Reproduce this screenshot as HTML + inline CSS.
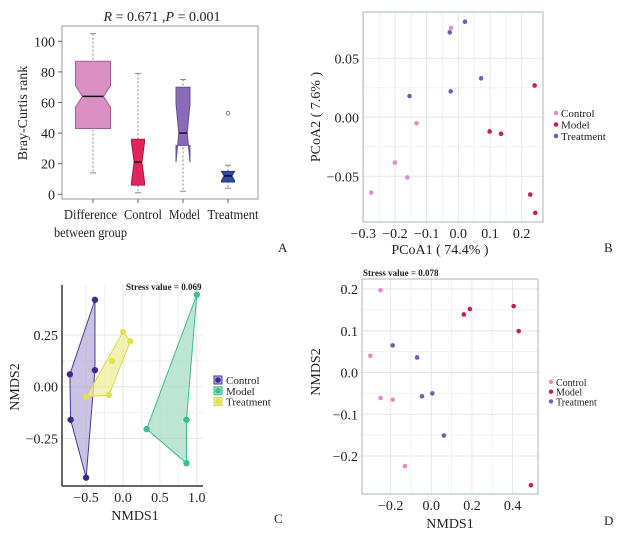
<!DOCTYPE html>
<html><head><meta charset="utf-8"><style>
html,body{margin:0;padding:0;background:#fff}
svg{display:block;font-family:"Liberation Serif",serif}
</style></head><body>
<svg id="fig" width="617" height="536" viewBox="0 0 617 536" xmlns="http://www.w3.org/2000/svg">
<g id="pA"></g>
<g id="pB"></g>
<g id="pC"></g>
<g id="pD"></g>
</svg>
<script>
// ---- Panel A data ----
const aCategories = ["Difference", "Control", "Model", "Treatment"];
const aWhiskLow = [14, 1, 2, 4];
const aQ1 = [43, 6, 32, 8];
const aMedian = [64, 21, 40, 12];
const aQ3 = [87, 36, 70, 15];
const aWhiskHigh = [105, 79, 75, 19];
const aNotchLow = [57, 8, 21, 9];
const aNotchHigh = [71, 34, 59, 15];
const aOutliers = [[], [], [], [53]];
const aTicks = [0, 20, 40, 60, 80, 100];
// ---- Panel B data ----
const bGroups = ["Control", "Model", "Treatment"];
const bX = [[-0.023,-0.132,-0.2,-0.161,-0.275],[0.241,0.099,0.135,0.227,0.243],[0.021,-0.027,0.072,-0.024,-0.154]];
const bY = [[0.0757,-0.005,-0.0384,-0.051,-0.0638],[0.027,-0.012,-0.014,-0.0655,-0.081],[0.081,0.072,0.033,0.022,0.018]];
const bXTicks = [-0.3,-0.2,-0.1,0.0,0.1,0.2];
const bXTickLabels = ["\u22120.3","\u22120.2","\u22120.1","0.0","0.1","0.2"];
const bYTicks = [0.05,0.00,-0.05];
const bYTickLabels = ["0.05","0.00","\u22120.05"];
// ---- Panel C data ----
const cGroups = ["Control", "Model", "Treatment"];
const cX = [[-0.38,-0.72,-0.38,-0.71,-0.5],[1.0,0.32,0.86,0.86],[0.0,0.1,-0.15,-0.19,-0.5]];
const cY = [[0.42,0.06,0.08,-0.16,-0.44],[0.445,-0.205,-0.16,-0.37],[0.265,0.22,0.125,-0.04,-0.05]];
const cHull = [[0,2,4,3,1],[0,2,3,1],[0,1,3,4]];
const cXTicks = [-0.5,0.0,0.5,1.0];
const cXTickLabels = ["\u22120.5","0.0","0.5","1.0"];
const cYTicks = [0.25,0.00,-0.25];
const cYTickLabels = ["0.25","0.00","\u22120.25"];
// ---- Panel D data ----
const dGroups = ["Control", "Model", "Treatment"];
const dX = [[-0.25,-0.30,-0.25,-0.19,-0.13],[0.16,0.19,0.405,0.43,0.49],[-0.19,-0.07,-0.046,0.005,0.062]];
const dY = [[0.197,0.040,-0.061,-0.065,-0.224],[0.139,0.152,0.159,0.099,-0.27],[0.065,0.036,-0.057,-0.05,-0.151]];
const dXTicks = [-0.2,0.0,0.2,0.4];
const dXTickLabels = ["\u22120.2","0.0","0.2","0.4"];
const dYTicks = [0.2,0.1,0.0,-0.1,-0.2];
const dYTickLabels = ["0.2","0.1","0.0","\u22120.1","\u22120.2"];

const NS="http://www.w3.org/2000/svg";
function mk(parent,tag,attrs,text){const e=document.createElementNS(NS,tag);for(const k in attrs)e.setAttribute(k,attrs[k]);if(text!==undefined)e.textContent=text;parent.appendChild(e);return e;}

// ===== Panel A =====
(function(){
const g=document.getElementById('pA');
const ay=v=>194.3-1.53*v;
const ax=[93,138,183,228];
const hw=[17.5,6.5,7,6.5];
const lw=[53,38,31,51];
const lx=[90.5,143,184.5,233];
const fills=["#d98fc4","#e0245e","#8a6bb8","#2d4ca8"];
const strokes=["#a0608f","#a81a45","#6a4f98","#1e3580"];
let r=mk(g,'rect',{x:62,y:26,width:196,height:173,fill:'#fff',stroke:'#999','stroke-width':1});

aTicks.forEach(t=>{
 let tl=mk(g,'line',{x1:58,x2:62,y1:ay(t),y2:ay(t),stroke:'#666'});
 
 let tx=mk(g,'text',{x:55,y:ay(t)+5,'text-anchor':'end','font-size':14,fill:'#222'},String(t));
 
});
aCategories.forEach((c,i)=>{
 const x=ax[i],w=hw[i],nw=w*0.6;
 let wl=mk(g,'line',{x1:x,x2:x,y1:ay(aWhiskHigh[i]),y2:ay(aWhiskLow[i]),stroke:'#888','stroke-dasharray':'2,2'});
 
 [aWhiskHigh[i],aWhiskLow[i]].forEach(v=>{let c2=mk(g,'line',{x1:x-3,x2:x+3,y1:ay(v),y2:ay(v),stroke:'#888'});});
 const pts=[[x-w,ay(aQ3[i])],[x+w,ay(aQ3[i])],[x+w,ay(aNotchHigh[i])],[x+nw,ay(aMedian[i])],[x+w,ay(aNotchLow[i])],[x+w,ay(aQ1[i])],[x-w,ay(aQ1[i])],[x-w,ay(aNotchLow[i])],[x-nw,ay(aMedian[i])],[x-w,ay(aNotchHigh[i])]];
 let p=mk(g,'polygon',{points:pts.map(q=>q.join(',')).join(' '),fill:fills[i],stroke:strokes[i],'stroke-width':1});
 
 let m=mk(g,'line',{x1:x-nw,x2:x+nw,y1:ay(aMedian[i]),y2:ay(aMedian[i]),stroke:'#111','stroke-width':1.5});
 
 aOutliers[i].forEach(o=>{let oc=mk(g,'circle',{cx:x,cy:ay(o),r:1.8,fill:'none',stroke:'#777'});});
 let tk=mk(g,'line',{x1:x,x2:x,y1:199,y2:203,stroke:'#666'});
 let lb=mk(g,'text',{x:lx[i],y:219,'text-anchor':'middle','font-size':14,fill:'#222',textLength:lw[i],lengthAdjust:'spacingAndGlyphs'},c);
 
});
let bg=mk(g,'text',{x:54,y:237,'font-size':14,fill:'#222',textLength:73,lengthAdjust:'spacingAndGlyphs'},'between group');
let yl=mk(g,'text',{x:0,y:0,transform:'translate(27,113) rotate(-90)','text-anchor':'middle','font-size':14,fill:'#222'},'Bray-Curtis rank');
let t=mk(g,'text',{x:162,y:21,'text-anchor':'middle','font-size':14,fill:'#222'});
t.innerHTML='<tspan font-style="italic">R</tspan> = 0.671 ,<tspan font-style="italic">P</tspan> = 0.001';
let L=mk(g,'text',{x:278,y:252,'font-size':13,fill:'#222'},'A');
})();

// ===== generic scatter =====
function scatter(g,o){
 const X=o.x,Y=o.y;
 let bgR=mk(g,'rect',{x:o.l,y:o.t,width:o.r-o.l,height:o.b-o.t,fill:'#fff'});
 for(let i=0;i<o.xt.length;i++){
  const xv=X(o.xt[i]);
  let gl=mk(g,'line',{x1:xv,x2:xv,y1:o.t,y2:o.b,stroke:'#e2e6ea','stroke-width':1});
  if(i<o.xt.length-1){const mv=X((o.xt[i]+o.xt[i+1])/2);let ml=mk(g,'line',{x1:mv,x2:mv,y1:o.t,y2:o.b,stroke:'#eef1f3'});}
  let tl=mk(g,'text',{x:xv,y:o.b+16,'text-anchor':'middle','font-size':14,fill:'#222'},o.xl[i]);
 }
 for(let i=0;i<o.yt.length;i++){
  const yv=Y(o.yt[i]);
  let gl=mk(g,'line',{x1:o.l,x2:o.r,y1:yv,y2:yv,stroke:'#e2e6ea'});
  if(i<o.yt.length-1){const mv=Y((o.yt[i]+o.yt[i+1])/2);let ml=mk(g,'line',{x1:o.l,x2:o.r,y1:mv,y2:mv,stroke:'#eef1f3'});}
  let tl=mk(g,'text',{x:o.l-4,y:yv+5,'text-anchor':'end','font-size':14,fill:'#222'},o.yl[i]);
 }
 if(o.box){let fr=mk(g,'rect',{x:o.l,y:o.t,width:o.r-o.l,height:o.b-o.t,fill:'none',stroke:'#a9b3ba'});}
 else{let a1=mk(g,'line',{x1:o.l,x2:o.l,y1:o.t,y2:o.b,stroke:'#333','stroke-width':1.5});
  let a2=mk(g,'line',{x1:o.l,x2:o.r,y1:o.b,y2:o.b,stroke:'#333','stroke-width':1.5});}
}

// ===== Panel B =====
(function(){
const g=document.getElementById('pB');
const X=v=>458.3+316.7*v, Y=v=>117.3-1180*v;
const cols=["#e88bbf","#d01b50","#7a5ab0"];
scatter(g,{p:'b',l:363,r:543,t:12,b:222,x:X,y:Y,xt:bXTicks,xl:bXTickLabels,yt:bYTicks,yl:bYTickLabels,box:true});
bGroups.forEach((gr,k)=>{bX[k].forEach((v,i)=>{let c=mk(g,'circle',{cx:X(v),cy:Y(bY[k][i]),r:2.3,fill:cols[k]});});
 let lc=mk(g,'circle',{cx:556,cy:113+k*11.5,r:2.3,fill:cols[k]});
 let lt=mk(g,'text',{x:561,y:117+k*11.5,'font-size':11,fill:'#222'},gr);});
let xl=mk(g,'text',{x:440,y:254,'text-anchor':'middle','font-size':14,fill:'#222'},'PCoA1 ( 74.4% )');
let yl=mk(g,'text',{x:0,y:0,transform:'translate(320,117) rotate(-90)','text-anchor':'middle','font-size':14,fill:'#222'},'PCoA2 ( 7.6% )');
let L=mk(g,'text',{x:604,y:252,'font-size':13,fill:'#222'},'B');
})();

// ===== Panel C =====
(function(){
const g=document.getElementById('pC');
const X=v=>123+73.8*v, Y=v=>386.7-206.7*v;
const fill=["#b8aed8","#a8dcc4","#eeee9a"], stroke=["#4a3a98","#3bbd8c","#d8d84a"], pt=["#3f2a8a","#3bbd8c","#e0e050"];
scatter(g,{p:'c',l:62,r:203,t:285,b:486,x:X,y:Y,xt:cXTicks,xl:cXTickLabels,yt:cYTicks,yl:cYTickLabels,box:false});
cGroups.forEach((gr,k)=>{
 const pts=cHull[k].map(i=>X(cX[k][i])+','+Y(cY[k][i])).join(' ');
 let h=mk(g,'polygon',{points:pts,fill:fill[k],'fill-opacity':0.75,stroke:stroke[k],'stroke-width':1});
});
cGroups.forEach((gr,k)=>{cX[k].forEach((v,i)=>{let c=mk(g,'circle',{cx:X(v),cy:Y(cY[k][i]),r:3.2,fill:pt[k]});});
 let lr=mk(g,'rect',{x:214,y:376+k*10.8,width:8,height:8,fill:fill[k],stroke:stroke[k]});
 let lc=mk(g,'circle',{cx:218,cy:380+k*10.8,r:2.8,fill:pt[k]});
 let lt=mk(g,'text',{x:226,y:384+k*10.8,'font-size':11,fill:'#222'},gr);});
let st=mk(g,'text',{x:126,y:290,'font-size':9,'font-weight':'bold',fill:'#222'},'Stress value = 0.069');
let xl=mk(g,'text',{x:135,y:520,'text-anchor':'middle','font-size':14,fill:'#222'},'NMDS1');
let yl=mk(g,'text',{x:0,y:0,transform:'translate(19,387) rotate(-90)','text-anchor':'middle','font-size':14,fill:'#222'},'NMDS2');
let L=mk(g,'text',{x:274,y:523,'font-size':13,fill:'#222'},'C');
})();

// ===== Panel D =====
(function(){
const g=document.getElementById('pD');
const X=v=>431.3+203.3*v, Y=v=>372.5-417.5*v;
const cols=["#e88bbf","#d01b50","#7a5ab0"];
scatter(g,{p:'d',l:362,r:538,t:279,b:494,x:X,y:Y,xt:dXTicks,xl:dXTickLabels,yt:dYTicks,yl:dYTickLabels,box:true});
dGroups.forEach((gr,k)=>{dX[k].forEach((v,i)=>{let c=mk(g,'circle',{cx:X(v),cy:Y(dY[k][i]),r:2.3,fill:cols[k]});});
 let lc=mk(g,'circle',{cx:551,cy:382+k*9.7,r:2.2,fill:cols[k]});
 let lt=mk(g,'text',{x:556,y:386+k*9.7,'font-size':10,fill:'#222'},gr);});
let st=mk(g,'text',{x:363,y:276,'font-size':9,'font-weight':'bold',fill:'#222'},'Stress value = 0.078');
let xl=mk(g,'text',{x:450,y:528,'text-anchor':'middle','font-size':14,fill:'#222'},'NMDS1');
let yl=mk(g,'text',{x:0,y:0,transform:'translate(320,372) rotate(-90)','text-anchor':'middle','font-size':14,fill:'#222'},'NMDS2');
let L=mk(g,'text',{x:604,y:525,'font-size':13,fill:'#222'},'D');
})();
</script>
</body></html>
